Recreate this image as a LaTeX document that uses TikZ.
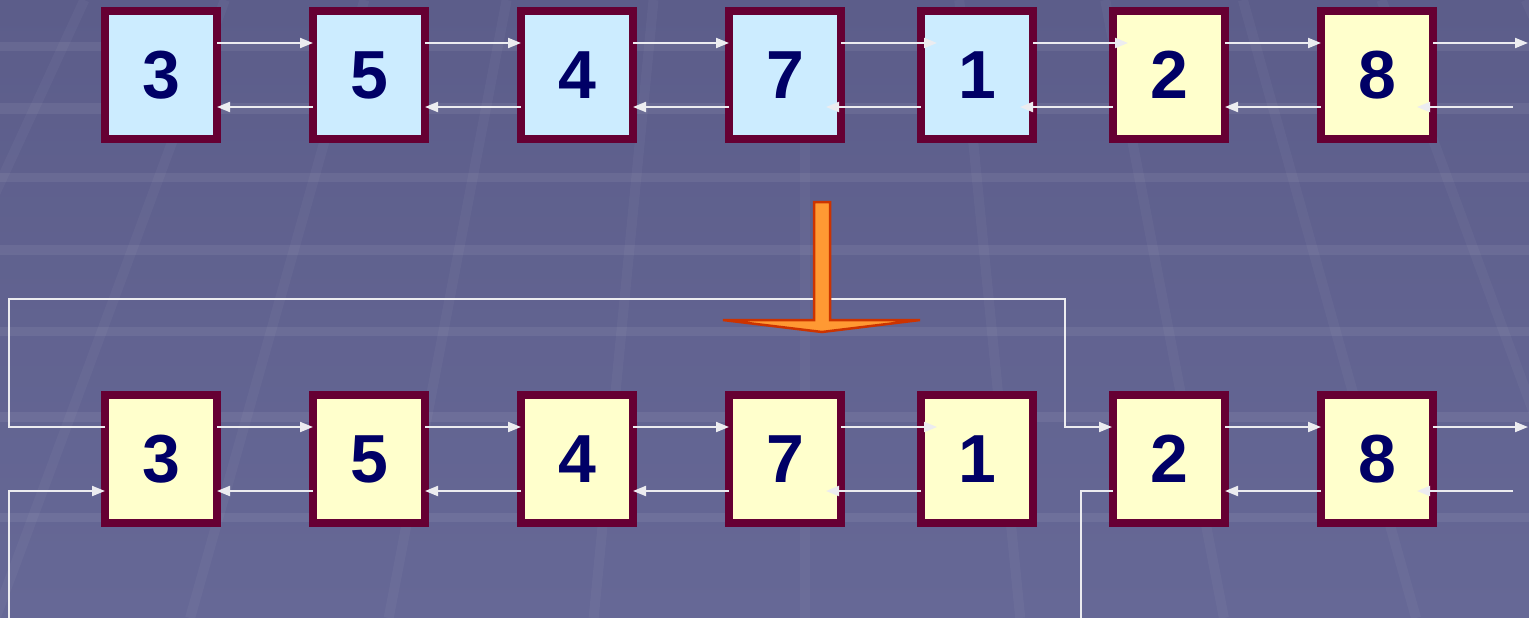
\documentclass[tikz,border=0pt]{standalone}
\usepackage{fontspec}
\setmainfont{Liberation Sans}
\usetikzlibrary{arrows.meta,calc}
\definecolor{bgtop}{HTML}{5C5D8A}
\definecolor{bgbot}{HTML}{666896}
\definecolor{boxborder}{HTML}{660033}
\definecolor{blueFill}{HTML}{CCECFF}
\definecolor{yellowFill}{HTML}{FFFFCC}
\definecolor{digitc}{HTML}{000066}
\definecolor{linkc}{HTML}{ECECF0}
\definecolor{orangeFill}{HTML}{FF9933}
\definecolor{orangeEdge}{HTML}{CC3300}
\begin{document}
\begin{tikzpicture}[x=1pt,y=-1pt,
  cell/.style={draw=boxborder, line width=8pt, minimum width=112pt, minimum height=128pt,
    inner sep=0pt, font=\fontsize{68}{68}\selectfont\bfseries, text=digitc},
  bluecell/.style={cell, fill=blueFill},
  yellowcell/.style={cell, fill=yellowFill},
  link/.style={draw=linkc, line width=2pt, -{Triangle[length=13pt,width=10pt]}},
  plainlink/.style={draw=linkc, line width=2pt},
  hband/.style={draw=white, draw opacity=0.065, line width=10pt},
  sband/.style={draw=white, draw opacity=0.035, line width=10pt},
  bigarrow/.style={fill=orangeFill, draw=orangeEdge, line width=2.5pt, line join=miter}
]
\useasboundingbox (0,0) rectangle (1529,618);
\begin{scope}
\clip (0,0) rectangle (1529,618);
\shade[top color=bgtop, bottom color=bgbot] (0,0) rectangle (1529,618);
\foreach \yy/\ww in {47/9,108/11,177/9,250/10,331/9,417/10,517/9,628/10}
  \draw[hband, line width=\ww pt] (0,\yy) -- (1529,\yy);
\foreach \o in {-785,-632,-480,-325,-165,0,168,327,477,628,785}
  \draw[sband] ({805+\o*0.918},0) -- ({805+\o*1.281},618);
\end{scope}

% top row
\node[bluecell]   (t3) at (161,75) {3};
\node[bluecell]   (t5) at (369,75) {5};
\node[bluecell]   (t4) at (577,75) {4};
\node[bluecell]   (t7) at (785,75) {7};
\node[bluecell]   (t1) at (977,75) {1};
\node[yellowcell] (t2) at (1169,75) {2};
\node[yellowcell] (t8) at (1377,75) {8};

% bottom row
\node[yellowcell] (b3) at (161,459) {3};
\node[yellowcell] (b5) at (369,459) {5};
\node[yellowcell] (b4) at (577,459) {4};
\node[yellowcell] (b7) at (785,459) {7};
\node[yellowcell] (b1) at (977,459) {1};
\node[yellowcell] (b2) at (1169,459) {2};
\node[yellowcell] (b8) at (1377,459) {8};

% free ends
\coordinate (toutR) at (1528,43);
\coordinate (tinR)  at (1513,107);
\coordinate (boutR) at (1528,427);
\coordinate (binR)  at (1513,491);
\coordinate (wrapL) at (9,299);
\coordinate (wrapR) at (1065,299);
\coordinate (downR) at (1081,618);
\coordinate (upL)   at (9,618);

% regular links
\foreach \a/\b in {t3/t5,t5/t4,t4/t7,t2/t8,b3/b5,b5/b4,b4/b7,b2/b8} {
  \draw[link] ($(\a.east)+(-4,-32)$) -- ($(\b.west)+(4,-32)$);
  \draw[link] ($(\b.west)+(4,32)$) -- ($(\a.east)+(-4,32)$);
}
\draw[link] ($(t7.east)+(-4,-32)$) -- ($(t1.west)+(20,-32)$);
\draw[link] ($(t1.west)+(4,32)$) -- ($(t7.east)+(-19,32)$);
\draw[link] ($(t1.east)+(-4,-32)$) -- ($(t2.west)+(19,-32)$);
\draw[link] ($(t2.west)+(4,32)$) -- ($(t1.east)+(-17,32)$);
\draw[link] ($(t8.east)+(-4,-32)$) -- (toutR);
\draw[link] (tinR) -- ($(t8.east)+(-20,32)$);

% bottom row extra links
\draw[link] ($(b7.east)+(-4,-32)$) -- ($(b1.west)+(20,-32)$);
\draw[link] ($(b1.west)+(4,32)$) -- ($(b7.east)+(-19,32)$);
\draw[link] ($(b8.east)+(-4,-32)$) -- (boutR);
\draw[link] (binR) -- ($(b8.east)+(-20,32)$);

% wrap-around links
\draw[link] ($(b3.west)+(4,-32)$) -| (wrapL) -- (wrapR) |- ($(b2.west)+(3,-32)$);
\draw[plainlink] ($(b2.west)+(4,32)$) -| (downR);
\draw[link] (upL) |- ($(b3.west)+(4,32)$);

% big orange arrow
\draw[bigarrow] (814,202) -- (830,202) -- (830,320) -- (920,320) -- (822,332)
  -- (723,320) -- (814,320) -- cycle;
\end{tikzpicture}
\end{document}
